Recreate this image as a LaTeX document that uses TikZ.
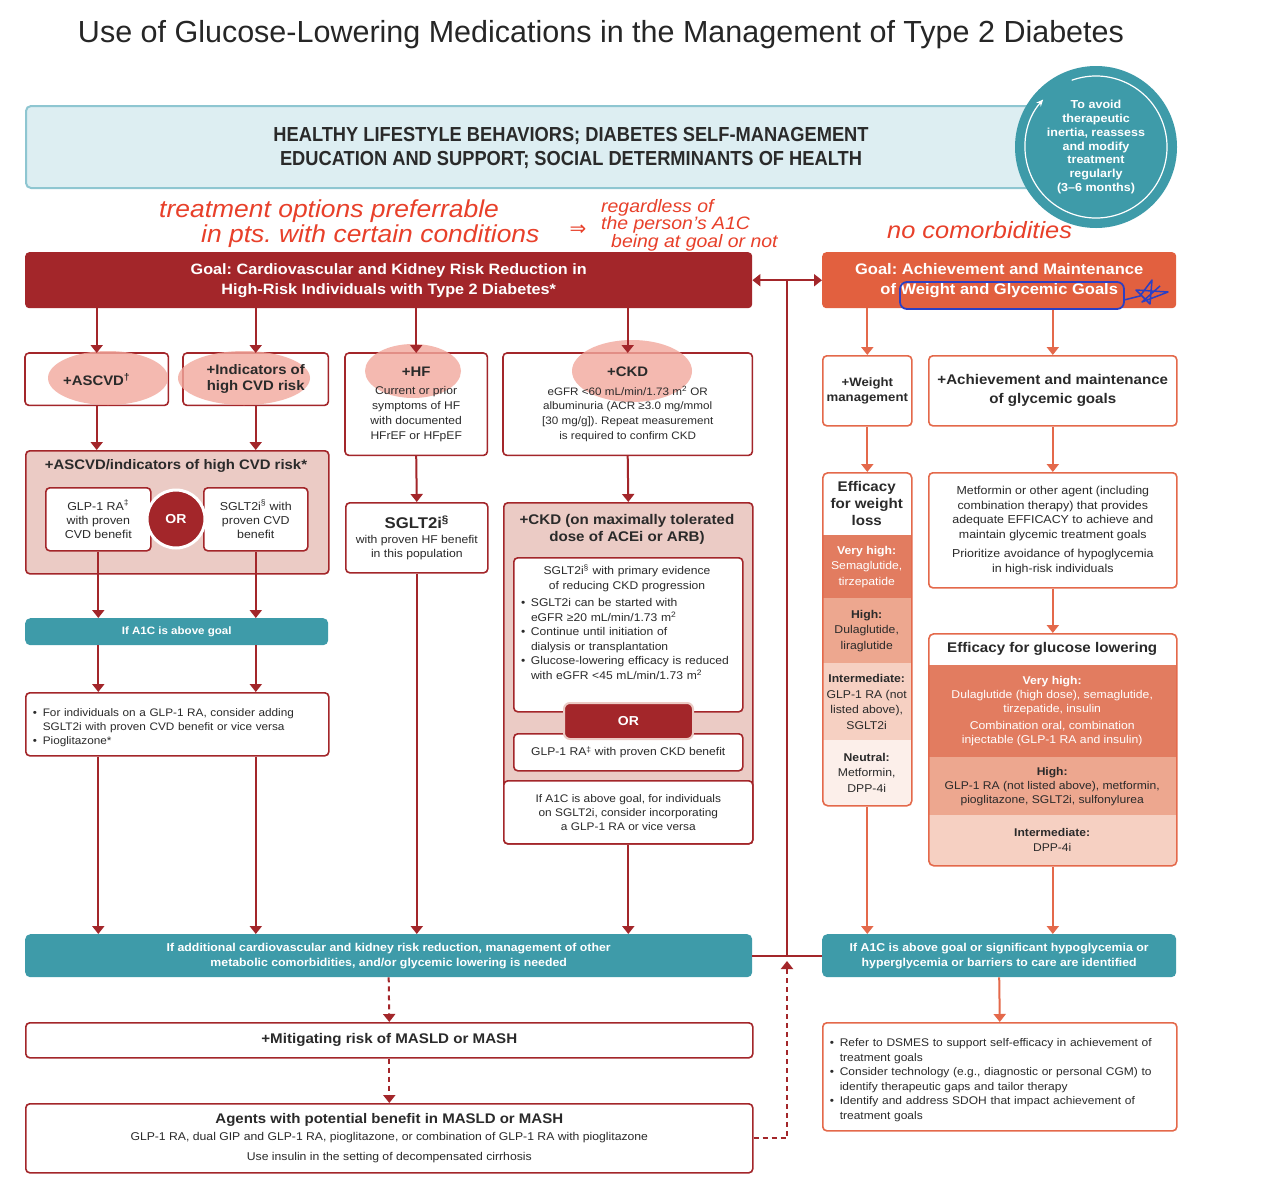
\documentclass[tikz,border=0pt]{standalone}
\usepackage{fontspec}
\setmainfont[FakeStretch=1.08]{Liberation Sans}
\newfontfamily\titlefont{Liberation Sans}
\newfontfamily\condfont[FakeStretch=0.9]{Liberation Sans}
\newfontfamily\djv{DejaVu Sans}
\usetikzlibrary{arrows.meta}
\pgfdeclarelayer{bg}
\pgfdeclarelayer{hl}
\pgfsetlayers{bg,hl,main}
\definecolor{dkred}{HTML}{A3262A}
\definecolor{orl}{HTML}{E4694B}
\definecolor{orgoal}{HTML}{E2603F}
\definecolor{tealc}{HTML}{3E9BA9}
\definecolor{hdrfill}{HTML}{DDEEF2}
\definecolor{hdrline}{HTML}{8EC6D1}
\definecolor{pinkp}{HTML}{EBCBC5}
\definecolor{hlpink}{HTML}{F2A89D}
\definecolor{txt}{HTML}{2A2A2A}
\definecolor{vhc}{HTML}{E27C60}
\definecolor{hic}{HTML}{EDA78F}
\definecolor{intc}{HTML}{F6D0C2}
\definecolor{neuc}{HTML}{FCEFEA}
\definecolor{pen}{HTML}{E8402A}
\definecolor{bluepen}{HTML}{2B3FC4}
\newcommand\setfs[2]{\fontsize{#1}{#2}\selectfont}
\newcommand\bitem[1]{\par\noindent\hangindent=10pt\hangafter=1\makebox[10pt][l]{\textbullet}#1\par}
\begin{document}
\frenchspacing
\begin{tikzpicture}[x=1pt,y=-1pt,
  every node/.style={text=txt, inner sep=3pt},
  sz/.style 2 args={minimum width=#1pt, minimum height=#2pt},
  rbox/.style={draw=dkred, line width=1.6pt, fill=white, rounded corners=4pt, align=center, anchor=north west},
  obox/.style={rbox, draw=orl},
  tbox/.style={fill=tealc, rounded corners=5pt, align=center, anchor=north west, text=white, font=\bfseries\setfs{11.4}{15}},
  band/.style={anchor=north west, align=center, inner sep=0pt, font=\setfs{11.3}{15.5}},
  larr/.style={draw=dkred, line width=2pt, -{Triangle[width=12pt,length=8pt]}},
  rarr/.style={draw=orl, line width=2pt, -{Triangle[width=12pt,length=8pt]}},
  dlarr/.style={larr, dash pattern=on 5pt off 4pt},
  hand/.style={text=pen, font=\itshape\setfs{24.5}{25}, align=left}
]
\useasboundingbox (0,0) rectangle (1282,1200);
\begin{pgfonlayer}{bg}
\fill[white] (0,0) rectangle (1282,1200);
\end{pgfonlayer}

% title
\node[font=\titlefont\setfs{30.5}{34}, text=black!85] (title) at (601,35) {Use of Glucose-Lowering Medications in the Management of Type 2 Diabetes};

% header
\node[draw=hdrline, fill=hdrfill, line width=2pt, rounded corners=5pt, sz={1010}{82}, anchor=north west] (hdr) at (25,105) {};
\node[font=\condfont\bfseries\setfs{20.3}{24}, align=center] (hdrtxt) at (571,148) {HEALTHY LIFESTYLE BEHAVIORS; DIABETES SELF-MANAGEMENT\\EDUCATION AND SUPPORT; SOCIAL DETERMINANTS OF HEALTH};

% cycle circle
\node[circle, fill=tealc, minimum size=162pt, inner sep=0pt] (cyc) at (1096,147) {};
\draw[white, line width=1.2pt, -{Stealth[length=7pt,width=6pt]}] (cyc.center) ++(-110:71) arc[start angle=-110, end angle=222, radius=71];
\node[text=white, font=\bfseries\setfs{11.6}{13.7}, align=center] (cyctxt) at (1096,147) {To avoid\\therapeutic\\inertia, reassess\\and modify\\treatment\\regularly\\(3–6 months)};

% handwriting
\node[hand, anchor=north west] (hw1) at (156,197) {treatment options preferrable\\\hspace*{42pt}in pts. with certain conditions};
\node[text=pen, font=\djv\setfs{20}{22}] (hwarr) at (578,230) {⇒};
\node[hand, font=\itshape\setfs{18}{17.5}, anchor=north west] (hw2) at (598,196) {regardless of\\the person's A1C\\\hspace*{10pt}being at goal or not};
\node[hand, font=\itshape\setfs{23.5}{25}, anchor=west] (hw3) at (884,230) {no comorbidities};

% goals
\node[fill=dkred, rounded corners=4pt, sz={727}{56}, anchor=north west, align=center, text=white, font=\bfseries\setfs{15}{20}] (goalL) at (25,252) {Goal: Cardiovascular and Kidney Risk Reduction in\\High-Risk Individuals with Type 2 Diabetes*};
\node[fill=orgoal, rounded corners=4pt, sz={354}{56}, anchor=north west, align=center, text=white, font=\bfseries\setfs{15.3}{20}] (goalR) at (822,252) {Goal: Achievement and Maintenance\\of Weight and Glycemic Goals};

% row 2 (text on main, borders on bg, highlights between)
\node[anchor=north west, sz={143}{52}, align=center, font=\bfseries\setfs{13.8}{16}] (ascvd) at (25,353) {+ASCVD\textsuperscript{†}};
\node[anchor=north west, sz={145}{52}, align=center, font=\bfseries\setfs{13.8}{16.5}] (indic) at (183,353) {+Indicators of\\high CVD risk};
\node[anchor=north west, sz={142}{102}, align=center, font=\setfs{11.2}{14.8}] (hf) at (345,353) {{\bfseries\setfs{13.8}{16}+HF}\\[4pt]Current or prior\\symptoms of HF\\with documented\\HFrEF or HFpEF};
\node[anchor=north west, sz={249}{102}, align=center, font=\setfs{10.8}{14.8}] (ckd) at (503,353) {{\bfseries\setfs{13.8}{16}+CKD}\\[4pt]eGFR <60 mL/min/1.73 m\textsuperscript{2} OR\\albuminuria (ACR ≥3.0 mg/mmol\\{[}30 mg/g]). Repeat measurement\\is required to confirm CKD};
\begin{pgfonlayer}{bg}
\draw[dkred, line width=1.6pt, rounded corners=4pt] (ascvd.north west) rectangle (ascvd.south east);
\draw[dkred, line width=1.6pt, rounded corners=4pt] (indic.north west) rectangle (indic.south east);
\draw[dkred, line width=1.6pt, rounded corners=4pt] (hf.north west) rectangle (hf.south east);
\draw[dkred, line width=1.6pt, rounded corners=4pt] (ckd.north west) rectangle (ckd.south east);
\end{pgfonlayer}
\begin{pgfonlayer}{hl}
\fill[hlpink, opacity=0.8] (108,378) ellipse [x radius=60, y radius=27];
\fill[hlpink, opacity=0.8] (244,378) ellipse [x radius=66, y radius=27];
\fill[hlpink, opacity=0.8] (413,371) ellipse [x radius=48, y radius=27];
\fill[hlpink, opacity=0.8] (632,371) ellipse [x radius=60, y radius=31];
\end{pgfonlayer}

% ASCVD panel
\node[rbox, fill=pinkp, sz={303}{123}] (panelA) at (25,450) {};
\node[font=\bfseries\setfs{13.8}{16}] (panelAt) at (176,466) {+ASCVD/indicators of high CVD risk*};
\node[rbox, sz={105}{63}, font=\setfs{11.5}{14}] (glp) at (45,487) {GLP-1 RA\textsuperscript{‡}\\with proven\\CVD benefit};
\node[rbox, sz={104}{63}, font=\setfs{11.5}{14}] (sglA) at (203,487) {SGLT2i\textsuperscript{§} with\\proven CVD\\benefit};
\node[circle, fill=dkred, draw=white, line width=3pt, minimum size=58pt, inner sep=0pt, text=white, font=\bfseries\setfs{13}{16}] (orA) at (176,519) {OR};

\node[tbox, sz={303}{27}, font=\bfseries\setfs{10.7}{13}] (a1cA) at (25,618) {If A1C is above goal};
\node[rbox, sz={303}{63}, text width=289pt, align=left, font=\setfs{10.9}{14}] (bulA) at (25,692) {\bitem{For individuals on a GLP-1 RA, consider adding\newline SGLT2i with proven CVD benefit or vice versa}\bitem{Pioglitazone*}};

% HF column
\node[rbox, sz={142}{70}, font=\setfs{11.3}{14}] (sgltHF) at (345,502) {{\bfseries\setfs{15.5}{19}SGLT2i\textsuperscript{§}}\\[1pt]with proven HF benefit\\in this population};

% CKD panel
\node[rbox, fill=pinkp, sz={249}{341}] (ckdP) at (503,502) {};
\node[rbox, sz={249}{63}, font=\setfs{11}{14}] (ckdA1c) at (503,780) {If A1C is above goal, for individuals\\on SGLT2i, consider incorporating\\a GLP-1 RA or vice versa};
\node[font=\bfseries\setfs{14}{17}, align=center] (ckdTitle) at (627,529) {+CKD (on maximally tolerated\\dose of ACEi or ARB)};
\node[rbox, sz={229}{154}] (ckdIn1) at (513,557) {};
\node[text width=212pt, inner sep=1pt, align=left, font=\setfs{11.2}{14.5}] (ckdIn1t) at (627,622) {{\centering SGLT2i\textsuperscript{§} with primary evidence\\of reducing CKD progression\par}\vspace{3pt}\bitem{SGLT2i can be started with\newline eGFR ≥20 mL/min/1.73 m\textsuperscript{2}}\bitem{Continue until initiation of\newline dialysis or transplantation}\bitem{Glucose-lowering efficacy is reduced\newline with eGFR <45 mL/min/1.73 m\textsuperscript{2}}};
\node[rbox, sz={229}{37}, font=\setfs{11.2}{14}] (ckdIn2) at (513,733) {\raisebox{-3pt}{GLP-1 RA\textsuperscript{‡} with proven CKD benefit}};
\node[fill=dkred, draw=pinkp, line width=2pt, rounded corners=6pt, sz={129}{36}, anchor=north west, text=white, font=\bfseries\setfs{13}{16}] (ckdOr) at (563,702) {OR};

% bottom left
\node[tbox, sz={727}{43}] (tealL) at (25,934) {If additional cardiovascular and kidney risk reduction, management of other\\metabolic comorbidities, and/or glycemic lowering is needed};
\node[rbox, sz={727}{35}, font=\bfseries\setfs{14}{17}] (masld) at (25,1022) {+Mitigating risk of MASLD or MASH};
\node[rbox, sz={727}{69}, font=\setfs{11.3}{15}] (agents) at (25,1103) {{\bfseries\setfs{13.9}{18}Agents with potential benefit in MASLD or MASH}\\[2pt]GLP-1 RA, dual GIP and GLP-1 RA, pioglitazone, or combination of GLP-1 RA with pioglitazone\\[5pt]Use insulin in the setting of decompensated cirrhosis};

% right column
\node[obox, sz={89}{70}, font=\bfseries\setfs{12.2}{15}] (weight) at (822,355) {+Weight\\management};
\node[obox, sz={248}{70}, font=\bfseries\setfs{14}{19}] (glyc) at (928,355) {+Achievement and maintenance\\of glycemic goals};

\begin{scope}
\clip[rounded corners=5pt] (822,472) rectangle (911,805);
\node[band, fill=white, sz={89}{63}, font=\bfseries\setfs{14}{17}] (wH) at (822,472) {Efficacy\\for weight\\loss};
\node[band, fill=vhc, sz={89}{63}, text=white] (wVH) at (822,535) {{\bfseries Very high:}\\Semaglutide,\\tirzepatide};
\node[band, fill=hic, sz={89}{65}] (wHi) at (822,598) {{\bfseries High:}\\Dulaglutide,\\liraglutide};
\node[band, fill=intc, sz={89}{77}] (wInt) at (822,663) {{\bfseries Intermediate:}\\GLP-1 RA (not\\listed above),\\SGLT2i};
\node[band, fill=neuc, sz={89}{65}] (wNeu) at (822,740) {{\bfseries Neutral:}\\Metformin,\\DPP-4i};
\end{scope}
\node[draw=orl, line width=1.6pt, rounded corners=5pt, sz={89}{333}, anchor=north west] (effW) at (822,472) {};

\node[obox, sz={248}{115}, font=\setfs{11.5}{14.5}] (metf) at (928,472) {Metformin or other agent (including\\combination therapy) that provides\\adequate EFFICACY to achieve and\\maintain glycemic treatment goals\\[5pt]Prioritize avoidance of hypoglycemia\\in high-risk individuals};

\begin{scope}
\clip[rounded corners=5pt] (928,633) rectangle (1176,865);
\node[band, fill=white, sz={248}{32}, font=\bfseries\setfs{14}{17}] (gH) at (928,633) {Efficacy for glucose lowering};
\node[band, fill=vhc, sz={248}{92}, text=white, font=\setfs{11.3}{14}] (gVH) at (928,665) {{\bfseries Very high:}\\Dulaglutide (high dose), semaglutide,\\tirzepatide, insulin\\[3pt]Combination oral, combination\\injectable (GLP-1 RA and insulin)};
\node[band, fill=hic, sz={248}{58}, font=\setfs{11.2}{14}] (gHi) at (928,757) {{\bfseries High:}\\GLP-1 RA (not listed above), metformin,\\pioglitazone, SGLT2i, sulfonylurea};
\node[band, fill=intc, sz={248}{50}, font=\setfs{11.2}{15}] (gInt) at (928,815) {{\bfseries Intermediate:}\\DPP-4i};
\end{scope}
\node[draw=orl, line width=1.6pt, rounded corners=5pt, sz={248}{232}, anchor=north west] (effG) at (928,633) {};

\node[tbox, sz={354}{43}] (tealR) at (822,934) {If A1C is above goal or significant hypoglycemia or\\hyperglycemia or barriers to care are identified};
\node[obox, sz={354}{108}, text width=340pt, align=left, font=\setfs{11.1}{14.5}] (bulR) at (822,1022) {\bitem{Refer to DSMES to support self-efficacy in achievement of\newline treatment goals}\bitem{Consider technology (e.g., diagnostic or personal CGM) to\newline identify therapeutic gaps and tailor therapy}\bitem{Identify and address SDOH that impact achievement of\newline treatment goals}};

% connectors left
\draw[larr] (goalL.south -| ascvd.north) -- (ascvd.north);
\draw[larr] (goalL.south -| indic.north) -- (indic.north);
\draw[larr] (goalL.south -| hf.north) -- (hf.north);
\draw[larr] (goalL.south -| ckd.north) -- (ckd.north);
\draw[larr] (ascvd.south) -- (ascvd.south |- panelA.north);
\draw[larr] (indic.south) -- (indic.south |- panelA.north);
\draw[larr] (glp.south) -- (glp.south |- a1cA.north);
\draw[larr] (sglA.south) -- (sglA.south |- a1cA.north);
\draw[larr] (a1cA.south -| glp.south) -- (bulA.north -| glp.south);
\draw[larr] (a1cA.south -| sglA.south) -- (bulA.north -| sglA.south);
\draw[larr] (bulA.south -| glp.south) -- (tealL.north -| glp.south);
\draw[larr] (bulA.south -| sglA.south) -- (tealL.north -| sglA.south);
\draw[larr] (hf.south) -- (sgltHF.north);
\draw[larr] (sgltHF.south) -- (sgltHF.south |- tealL.north);
\draw[larr] (ckd.south) -- (ckdP.north);
\draw[larr] (ckdA1c.south) -- (ckdA1c.south |- tealL.north);
\draw[dlarr] (tealL.south) -- (masld.north);
\draw[dlarr] (masld.south) -- (agents.north);

% central bus
\coordinate (busTop) at (787,280);
\coordinate (busBot) at (787,955.5);
\coordinate (busArr) at (787,961);
\draw[dkred, line width=2pt, {Triangle[width=12pt,length=8pt]}-{Triangle[width=12pt,length=8pt]}] (goalL.east) -- (goalR.west);
\draw[dkred, line width=1.6pt] (busTop) -- (busBot);
\draw[dkred, line width=1.6pt] (tealL.east) -- (tealR.west);
\draw[dlarr] (agents.east) -| (busArr);

% connectors right
\draw[rarr] (goalR.south -| weight.north) -- (weight.north);
\draw[rarr] (goalR.south -| glyc.north) -- (glyc.north);
\draw[rarr] (weight.south) -- (effW.north);
\draw[rarr] (glyc.south) -- (metf.north);
\draw[rarr] (metf.south) -- (effG.north);
\draw[rarr] (effW.south) -- (effW.south |- tealR.north);
\draw[rarr] (effG.south) -- (effG.south |- tealR.north);
\draw[rarr] (tealR.south) -- (bulR.north);

% blue pen marks
\draw[bluepen, line width=1.8pt, rounded corners=7pt] (900,282) rectangle (1124,309);
\draw[bluepen, line width=1.5pt, line join=round] (1124,300) -- (1140,296) -- (1152,280) -- (1150,304) -- (1136,290) -- (1168,292) -- (1142,302) -- (1160,286);
\end{tikzpicture}
\end{document}
